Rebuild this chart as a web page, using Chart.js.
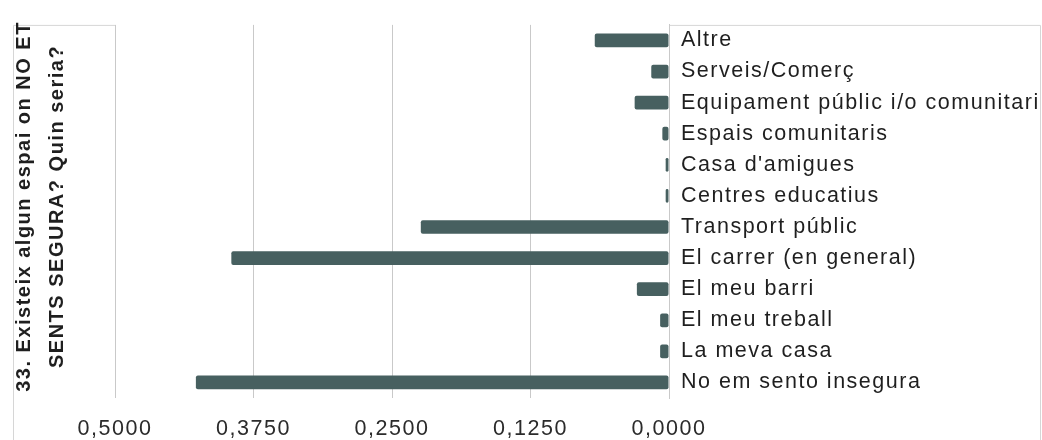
<!DOCTYPE html>
<html>
<head>
<meta charset="utf-8">
<script src="https://cdn.jsdelivr.net/npm/chart.js@4"></script>
<style>
  html, body { margin: 0; padding: 0; background: #fff; }
  #wrap { width: 1042px; height: 440px; }
</style>
</head>
<body>
<div id="wrap"><canvas id="espaisChart"></canvas></div>
<script>
// Data
const categories = [
    "Altre",
    "Serveis/Comerç",
    "Equipament públic i/o comunitari",
    "Espais comunitaris",
    "Casa d'amigues",
    "Centres educatius",
    "Transport públic",
    "El carrer (en general)",
    "El meu barri",
    "El meu treball",
    "La meva casa",
    "No em sento insegura"
];
const shares = [0.067, 0.016, 0.031, 0.006, 0.003, 0.003, 0.224, 0.395, 0.029, 0.008, 0.008, 0.427];
const axisTitle = ["33. Existeix algun espai on NO ET", "SENTS SEGURA? Quin seria?"];
const tickStep = 0.125;
const tickMax = 0.5;

const textFont = "'Liberation Sans', Arial, sans-serif";

// Light frame around the whole chart, broken where the plot area sits
const framePlugin = {
    id: "frame",
    beforeDraw(chart) {
        const ctx = chart.ctx;
        const x = chart.scales.x;
        const top = chart.chartArea.top + 0.5;
        ctx.save();
        ctx.strokeStyle = "#d6d6d6";
        ctx.lineWidth = 1;
        ctx.beginPath();
        ctx.moveTo(13.5, 440);
        ctx.lineTo(13.5, top);
        ctx.lineTo(x.getPixelForValue(tickMax), top);
        ctx.moveTo(x.getPixelForValue(0), top);
        ctx.lineTo(1040.5, top);
        ctx.lineTo(1040.5, 440);
        ctx.stroke();
        ctx.restore();
        // the source font is set quite loose
        ctx.letterSpacing = "1.5px";
    }
};

// Rotated question on the left, two lines reading bottom to top
const titlePlugin = {
    id: "sideTitle",
    afterDraw(chart) {
        const ctx = chart.ctx;
        const area = chart.chartArea;
        const cy = (area.top + area.bottom) / 2 - 5;
        ctx.save();
        ctx.translate(24, cy);
        ctx.rotate(-Math.PI / 2);
        ctx.fillStyle = "#1f1f1f";
        ctx.font = "bold 20px " + textFont;
        ctx.textAlign = "center";
        ctx.textBaseline = "middle";
        axisTitle.forEach((line, i) => ctx.fillText(line, 0, i * 33));
        ctx.restore();
    }
};

const ctx = document.getElementById("espaisChart").getContext("2d");
new Chart(ctx, {
    type: "bar",
    data: {
        labels: categories,
        datasets: [{
            data: shares,
            backgroundColor: "#476060",
            borderRadius: 2,
            borderSkipped: false,
            categoryPercentage: 0.9,
            barPercentage: 0.49
        }]
    },
    plugins: [framePlugin, titlePlugin],
    options: {
        indexAxis: "y",
        responsive: true,
        maintainAspectRatio: false,
        animation: false,
        layout: { padding: { top: 14, left: 115, right: 0, bottom: 0 } },
        plugins: {
            legend: { display: false },
            tooltip: { enabled: false }
        },
        scales: {
            x: {
                type: "linear",
                reverse: true,
                min: 0,
                max: tickMax,
                afterFit: s => { s.height = 42; },
                ticks: {
                    stepSize: tickStep,
                    padding: 18,
                    color: "#2b2b2b",
                    font: { family: textFont, size: 21.5 },
                    callback: v => v.toFixed(4).replace(".", ",")
                },
                grid: { color: "#c9c9c9", drawTicks: false },
                border: { display: false }
            },
            y: {
                position: "right",
                afterFit: s => { s.width = 373; },
                ticks: {
                    padding: 12,
                    color: "#1f1f1f",
                    font: { family: textFont, size: 21.5 }
                },
                grid: { display: false, drawTicks: false },
                border: { display: true, color: "#c9c9c9" }
            }
        }
    }
});
</script>
</body>
</html>
